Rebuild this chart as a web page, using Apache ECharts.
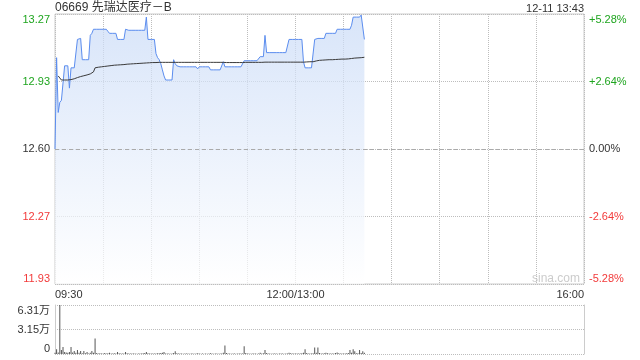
<!DOCTYPE html>
<html><head><meta charset="utf-8">
<script src="https://cdn.jsdelivr.net/npm/echarts@6/dist/echarts.min.js"></script>
<style>html,body{margin:0;padding:0;background:#fff}#c{width:640px;height:360px}</style>
</head><body><div id="c"></div>
<script>
const prevClose = 12.60;
const titleText = '06669 先瑞达医疗－B';
const dateText = '12-11 13:43';
const priceTickLabels = ['11.93', '12.27', '12.60', '12.93', '13.27'];
const pctTickLabels = ['-5.28%', '-2.64%', '0.00%', '+2.64%', '+5.28%'];
const volTickLabels = ['0', '3.15万', '6.31万'];
const xLabelIndex = [0, 150, 330];

const priceValues = [
 12.60, 13.05, 12.78, 12.83, 12.84, 12.84, 13.01, 13.01, 13.01, 12.90,
 13.00, 13.00, 13.00, 13.00, 13.14, 13.14, 13.145, 13.04, 13.04, 13.04,
 13.04, 13.04, 13.16, 13.17, 13.19, 13.19, 13.19, 13.19, 13.19, 13.19,
 13.19, 13.19, 13.19, 13.18, 13.17, 13.17, 13.17, 13.17, 13.17, 13.14,
 13.14, 13.14, 13.14, 13.14, 13.19, 13.185, 13.185, 13.185, 13.185, 13.185,
 13.185, 13.185, 13.185, 13.185, 13.185, 13.185, 13.185, 13.25, 13.14, 13.14,
 13.14, 13.14, 13.14, 13.07, 13.05, 13.04, 13.02, 12.99, 12.96, 12.94,
 12.94, 12.94, 12.94, 12.94, 13.04, 13.02, 13.01, 13.005, 13.005, 13.005,
 13.005, 13.005, 13.005, 13.005, 13.005, 13.005, 13.005, 13.005, 13.005, 12.995,
 13.005, 13.005, 13.005, 13.005, 13.005, 13.005, 13.005, 12.99, 12.99, 12.99,
 12.99, 12.99, 12.99, 12.99, 12.99, 13.03, 13.005, 13.005, 13.005, 13.005,
 13.005, 13.005, 13.005, 13.005, 13.005, 13.005, 13.005, 13.005, 13.035, 13.035,
 13.035, 13.035, 13.035, 13.035, 13.035, 13.035, 13.035, 13.035, 13.055, 13.055,
 13.055, 13.16, 13.075, 13.075, 13.075, 13.075, 13.075, 13.075, 13.075, 13.075,
 13.075, 13.075, 13.075, 13.075, 13.075, 13.075, 13.14, 13.14, 13.14, 13.14,
 13.14, 13.14, 13.14, 13.14, 13.14, 13.03, 13.00, 13.00, 13.00, 13.00,
 13.00, 13.00, 13.14, 13.145, 13.145, 13.145, 13.145, 13.145, 13.145, 13.17,
 13.17, 13.17, 13.17, 13.17, 13.17, 13.17, 13.19, 13.19, 13.19, 13.19,
 13.19, 13.19, 13.19, 13.19, 13.19, 13.21, 13.25, 13.25, 13.25, 13.25,
 13.25, 13.26, 13.26, 13.14
];

const avgValues = [
 null, null, 12.96, 12.95, 12.94, 12.94, 12.94, 12.94, 12.94, 12.94,
 12.942, 12.944, 12.946, 12.948, 12.952, 12.955, 12.957, 12.959, 12.961, 12.963,
 12.965, 12.967, 12.970, 12.975, 12.980, 13.000, 13.002, 13.003, 13.004, 13.005,
 13.006, 13.007, 13.008, 13.009, 13.010, 13.011, 13.012, 13.013, 13.014, 13.014,
 13.015, 13.015, 13.016, 13.016, 13.017, 13.018, 13.018, 13.019, 13.020, 13.020,
 13.021, 13.021, 13.022, 13.022, 13.023, 13.023, 13.024, 13.024, 13.025, 13.025,
 13.025, 13.026, 13.026, 13.026, 13.026, 13.027, 13.027, 13.027, 13.027, 13.027,
 13.027, 13.027, 13.027, 13.027, 13.027, 13.027, 13.027, 13.027, 13.027, 13.027,
 13.027, 13.027, 13.027, 13.027, 13.027, 13.027, 13.027, 13.027, 13.027, 13.027,
 13.027, 13.027, 13.027, 13.027, 13.027, 13.027, 13.027, 13.027, 13.027, 13.027,
 13.027, 13.027, 13.027, 13.027, 13.027, 13.027, 13.026, 13.026, 13.026, 13.026,
 13.026, 13.026, 13.026, 13.026, 13.026, 13.026, 13.026, 13.026, 13.027, 13.027,
 13.027, 13.027, 13.027, 13.027, 13.027, 13.027, 13.027, 13.027, 13.027, 13.027,
 13.027, 13.028, 13.028, 13.028, 13.028, 13.028, 13.028, 13.028, 13.028, 13.028,
 13.028, 13.028, 13.028, 13.028, 13.028, 13.028, 13.028, 13.028, 13.028, 13.028,
 13.028, 13.028, 13.028, 13.028, 13.028, 13.028, 13.029, 13.029, 13.030, 13.030,
 13.030, 13.030, 13.032, 13.034, 13.036, 13.037, 13.037, 13.038, 13.038, 13.039,
 13.039, 13.040, 13.040, 13.040, 13.041, 13.041, 13.042, 13.042, 13.042, 13.043,
 13.043, 13.043, 13.044, 13.044, 13.045, 13.046, 13.047, 13.048, 13.048, 13.049,
 13.049, 13.050, 13.051, 13.052
];

const volumeValues = [
 1500, 6000, 2000, 63080, 5000, 9000, 2500, 2000, 1500, 2500,
 9000, 2000, 4000, 1500, 5000, 1500, 4000, 1000, 4000, 1000,
 2500, 800, 1500, 4000, 1500, 20000, 1200, 800, 1000, 600,
 800, 1200, 600, 1000, 1500, 800, 600, 900, 700, 2500,
 1000, 600, 800, 500, 2500, 900, 700, 600, 500, 800,
 600, 400, 700, 500, 600, 900, 1200, 2500, 1000, 600,
 500, 700, 600, 800, 1000, 900, 1200, 1500, 2500, 800,
 600, 500, 400, 700, 1200, 3500, 1000, 600, 500, 800,
 400, 600, 500, 700, 400, 500, 600, 400, 500, 1000,
 500, 400, 600, 300, 500, 400, 600, 900, 500, 400,
 600, 500, 400, 700, 500, 1500, 11000, 1200, 600, 500,
 400, 600, 500, 400, 600, 500, 700, 500, 10000, 1200,
 600, 500, 400, 700, 500, 600, 400, 800, 1500, 600,
 1000, 5000, 1200, 600, 500, 400, 700, 500, 600, 400,
 500, 700, 600, 400, 500, 800, 1500, 900, 600, 500,
 700, 600, 500, 800, 1000, 1500, 6000, 1200, 800, 600,
 700, 900, 8500, 1500, 8500, 1200, 800, 600, 900, 1500,
 1000, 700, 600, 800, 500, 1200, 2000, 900, 700, 600,
 800, 700, 900, 1200, 5000, 1500, 6000, 3500, 1000, 900,
 5000, 1200, 3500, 1500
];

// minute categories 09:30-12:00, 13:01-16:00 (12:00 and 13:00 share one slot)
const pad = n => (n < 10 ? '0' : '') + n;
const timeCategories = [];
for (let i = 0; i <= 330; i++) {
  let t;
  if (i < 150) t = 9 * 60 + 30 + i;
  else if (i === 150) { timeCategories.push('12:00/13:00'); continue; }
  else t = 13 * 60 + (i - 150);
  timeCategories.push(pad(Math.floor(t / 60)) + ':' + pad(t % 60));
}

const FONT = '"Liberation Sans", Arial, "Noto Sans CJK SC", sans-serif';
const GREEN = '#1fa51f', RED = '#f23a3a', DARK = '#333';
const pct = v => (v == null ? null : (v / prevClose - 1) * 100);
const pIdx = v => Math.round((v + 5.28) / 2.64);
const pColor = v => (Math.abs(v) < 1e-6 ? DARK : (v > 0 ? GREEN : RED));
const dotted = () => ({ color: '#bdbdbd', type: 'dotted', width: 1, opacity: 1 });

const chart = echarts.init(document.getElementById('c'), null, { renderer: 'canvas' });
chart.setOption({
  animation: false,
  backgroundColor: '#fff',
  textStyle: { fontFamily: FONT },
  title: [
    { text: titleText, left: 55, top: 2, padding: 0,
      textStyle: { fontSize: 12, fontWeight: 'normal', color: DARK, fontFamily: FONT } },
    { text: dateText, right: 56, top: 3, padding: 0,
      textStyle: { fontSize: 11, fontWeight: 'normal', color: DARK, fontFamily: FONT } }
  ],
  graphic: [
    { type: 'text', left: 532, top: 273, silent: true,
      style: { text: 'sina.com', fill: '#cccccc', font: '12px ' + FONT } }
  ],
  grid: [
    { left: 55, right: 56, top: 14, height: 270, show: true, borderColor: '#cccccc', borderWidth: 1 },
    { left: 55, right: 56, top: 305, height: 49 }
  ],
  xAxis: [
    { type: 'category', gridIndex: 0, data: timeCategories, boundaryGap: false,
      axisLine: { show: false }, axisTick: { show: false },
      axisLabel: { interval: (i) => xLabelIndex.indexOf(i) >= 0, margin: 5, fontSize: 11, color: DARK,
        fontFamily: FONT, showMinLabel: true, showMaxLabel: true, alignMinLabel: 'left', alignMaxLabel: 'right' },
      splitLine: { show: true, interval: (i) => i % 30 === 0, lineStyle: dotted() } },
    { type: 'category', gridIndex: 1, data: timeCategories, boundaryGap: false,
      axisLine: { show: false }, axisTick: { show: false }, axisLabel: { show: false }, splitLine: { show: false } }
  ],
  yAxis: [
    { type: 'value', gridIndex: 0, position: 'left', min: -5.28, max: 5.28, interval: 2.64,
      axisLine: { show: false }, axisTick: { show: false },
      splitLine: { show: true, lineStyle: dotted() },
      axisLabel: { margin: 5, fontSize: 11, fontFamily: FONT, formatter: v => priceTickLabels[pIdx(v)],
        color: v => pColor(v), verticalAlignMinLabel: 'bottom', verticalAlignMaxLabel: 'top' } },
    { type: 'value', gridIndex: 0, position: 'right', min: -5.28, max: 5.28, interval: 2.64,
      axisLine: { show: false }, axisTick: { show: false }, splitLine: { show: false },
      axisLabel: { margin: 5, fontSize: 11, fontFamily: FONT, formatter: v => pctTickLabels[pIdx(v)],
        color: v => pColor(v), verticalAlignMinLabel: 'bottom', verticalAlignMaxLabel: 'top' } },
    { type: 'value', gridIndex: 1, position: 'left', min: 0, max: 63080, interval: 31540,
      axisLine: { show: true, lineStyle: { color: '#cccccc' } }, axisTick: { show: false },
      splitLine: { show: true, showMinLine: true, showMaxLine: true, lineStyle: dotted() },
      axisLabel: { margin: 5, fontSize: 11, color: DARK, fontFamily: FONT,
        formatter: v => volTickLabels[Math.round(v / 31540)],
        verticalAlignMinLabel: 'bottom', verticalAlignMaxLabel: 'top' } },
    { type: 'value', gridIndex: 1, position: 'right', min: 0, max: 63080, interval: 31540,
      axisLine: { show: true, lineStyle: { color: '#cccccc' } }, axisTick: { show: false },
      splitLine: { show: false }, axisLabel: { show: false } }
  ],
  series: [
    { name: 'price', type: 'line', xAxisIndex: 0, yAxisIndex: 0, data: priceValues.map(pct),
      showSymbol: false, symbol: 'none', lineStyle: { color: '#5b8def', width: 1 },
      areaStyle: { origin: 'start', color: new echarts.graphic.LinearGradient(0, 0, 0, 1, [
        { offset: 0, color: '#c8daf7' }, { offset: 1, color: '#ffffff' }]) },
      markLine: { silent: true, symbol: 'none', label: { show: false },
        lineStyle: { color: '#aaaaaa', type: [4, 3], width: 1 }, data: [{ yAxis: 0 }] },
      z: 2 },
    { name: 'avg', type: 'line', xAxisIndex: 0, yAxisIndex: 0, data: avgValues.map(pct),
      showSymbol: false, symbol: 'none', lineStyle: { color: '#3a3a3a', width: 1 }, z: 3 },
    { name: 'volume', type: 'bar', xAxisIndex: 1, yAxisIndex: 2, data: volumeValues,
      barWidth: 1, itemStyle: { color: '#555555' } }
  ]
});
</script></body></html>
